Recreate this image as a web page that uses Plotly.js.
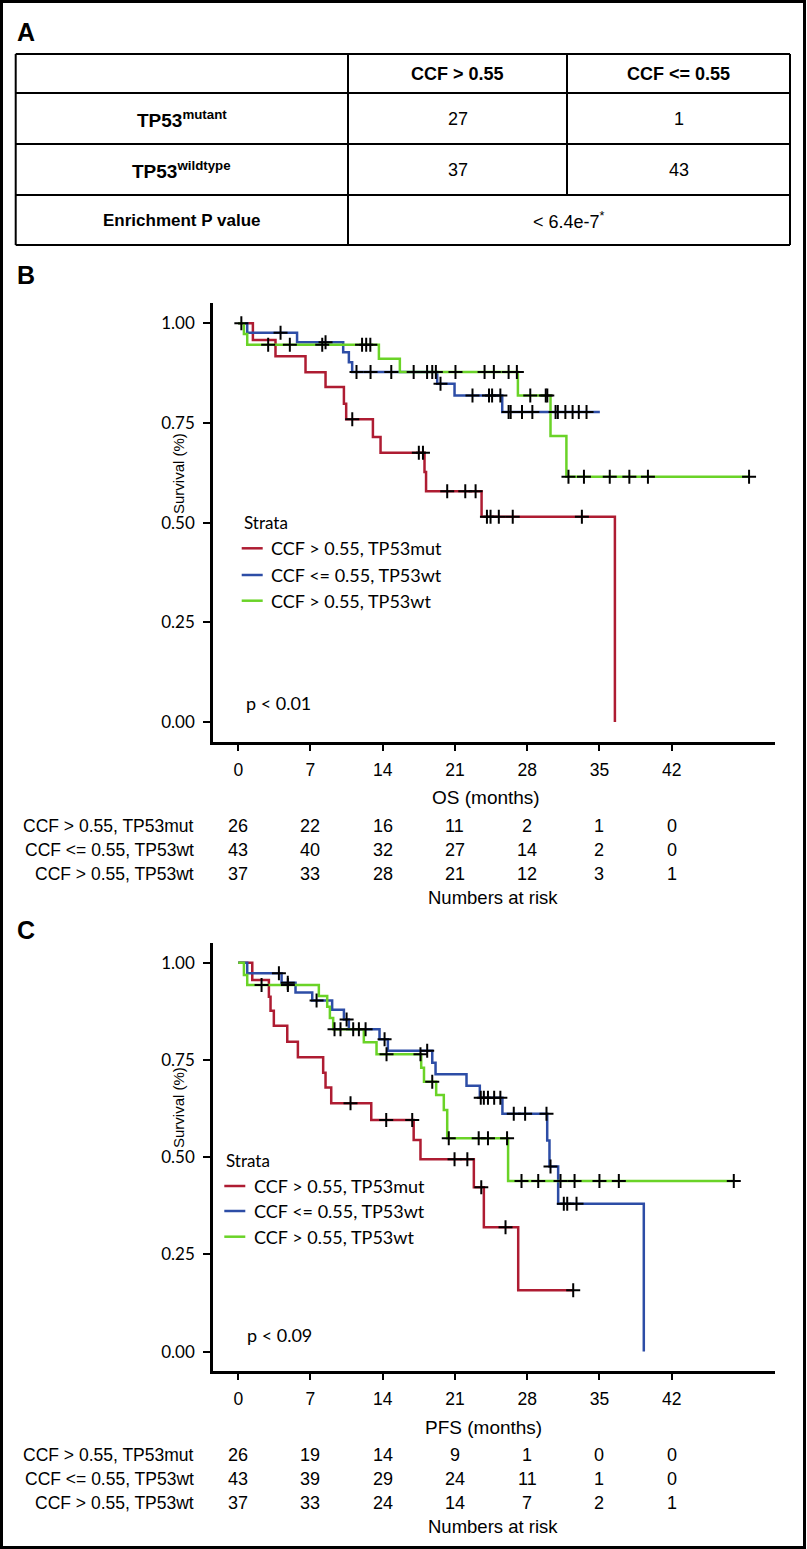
<!DOCTYPE html>
<html><head><meta charset="utf-8">
<script src="https://cdn.plot.ly/plotly-3.0.1.min.js"></script>
<style>html,body{margin:0;padding:0;background:#fff}#chart{width:807px;height:1549px}</style>
</head><body><div id="chart"></div>
<script>
// ---------- Panel A table ----------
const tableCols = ["CCF &gt; 0.55", "CCF &lt;= 0.55"];
const tableRows = ["TP53<sup>mutant</sup>", "TP53<sup>wildtype</sup>"];
const countsMutant = [27, 1];
const countsWildtype = [37, 43];
const pLabel = "Enrichment P value";
const pValue = "&lt; 6.4e-7<sup>*</sup>";

// ---------- Strata ----------
const strata = ["CCF &gt; 0.55, TP53mut", "CCF &lt;= 0.55, TP53wt", "CCF &gt; 0.55, TP53wt"];
const colors = ["#AE1C32", "#2D4DA6", "#6AD327"];

// ---------- Panel B: OS ----------
const osMutTimes = [1.42, 3.61, 6.52, 8.46, 10.24, 10.46, 13.05, 13.79, 18.05, 18.2, 23.58, 36.5];
const osMutSurv  = [0.958, 0.917, 0.877, 0.840, 0.798, 0.759, 0.715, 0.675, 0.627, 0.579, 0.515, 0];
const osMutCens  = [0.3, 11.05, 17.5, 17.9, 20.25, 22.0, 23.0, 24.1, 24.45, 25.25, 26.6, 33.3];
const osMutEnd   = 36.5;

const osLoTimes = [0.87, 5.7, 10.17, 10.72, 11.04, 19.28, 20.96, 25.58];
const osLoSurv  = [0.976, 0.9525, 0.9275, 0.9025, 0.8775, 0.8485, 0.819, 0.7775];
const osLoCens  = [4.1, 8.46, 11.46, 12.82, 14.83, 18.8, 19.15, 19.6, 22.7, 24.3, 24.6, 25.4, 26.2, 26.4, 27.5, 28.5, 30.75, 30.97, 31.7, 32.4, 33.0, 33.75];
const osLoEnd   = 35.04;

const osHiTimes = [0.55, 0.87, 13.63, 15.66, 27.1, 30.26, 31.8];
const osHiSurv  = [0.973, 0.946, 0.911, 0.8775, 0.819, 0.7175, 0.615];
const osHiCens  = [2.9, 5.0, 8.14, 12.0, 12.4, 12.8, 17.0, 18.3, 21.05, 23.87, 24.77, 26.2, 27.0, 28.3, 29.8, 29.95, 32.0, 33.5, 36.0, 37.9, 39.7, 49.5];
const osHiEnd   = 49.5;

// ---------- Panel C: PFS ----------
const pfsMutTimes = [1.36, 2.97, 3.13, 3.45, 4.75, 5.78, 8.23, 8.46, 9.01, 12.89, 17.0, 17.66, 22.83, 23.8, 27.13];
const pfsMutSurv  = [0.956, 0.913, 0.877, 0.838, 0.797, 0.757, 0.7175, 0.679, 0.639, 0.596, 0.5445, 0.495, 0.423, 0.32, 0.158];
const pfsMutCens  = [10.88, 14.34, 16.86, 20.96, 22.2, 23.55, 25.9, 32.46];
const pfsMutEnd   = 32.46;

const pfsLoTimes = [0.87, 4.2, 5.55, 7.17, 9.1, 10.24, 10.72, 13.69, 14.5, 18.8, 19.12, 22.12, 23.41, 25.6, 29.94, 30.16, 31.0, 39.3];
const pfsLoSurv  = [0.973, 0.949, 0.924, 0.903, 0.879, 0.854, 0.829, 0.8035, 0.774, 0.743, 0.7135, 0.6835, 0.653, 0.612, 0.5427, 0.476, 0.38, 0];
const pfsLoCens  = [3.94, 4.8, 7.59, 10.5, 11.14, 11.69, 12.34, 14.18, 18.31, 23.5, 23.8, 24.2, 24.8, 25.4, 26.7, 27.8, 29.87, 30.26, 31.55, 31.88, 32.78];
const pfsLoEnd   = 39.3;

const pfsHiTimes = [0.55, 0.87, 7.81, 8.62, 8.88, 9.2, 12.17, 13.4, 17.73, 18.0, 19.18, 19.92, 20.25, 26.15];
const pfsHiSurv  = [0.969, 0.943, 0.915, 0.887, 0.858, 0.829, 0.796, 0.765, 0.73, 0.694, 0.66, 0.6217, 0.549, 0.439];
const pfsHiCens  = [2.26, 4.81, 9.33, 9.91, 14.37, 17.66, 18.8, 20.4, 23.3, 24.2, 26.05, 27.45, 29.07, 31.23, 32.59, 35.0, 36.88, 48.02];
const pfsHiEnd   = 48.02;

// ---------- Numbers at risk ----------
const riskTimes = [0, 7, 14, 21, 28, 35, 42];
const osRiskMut = [26, 22, 16, 11, 2, 1, 0];
const osRiskLo  = [43, 40, 32, 27, 14, 2, 0];
const osRiskHi  = [37, 33, 28, 21, 12, 3, 1];
const pfsRiskMut = [26, 19, 14, 9, 1, 0, 0];
const pfsRiskLo  = [43, 39, 29, 24, 11, 1, 0];
const pfsRiskHi  = [37, 33, 24, 14, 7, 2, 1];

const yTicks = [0, 0.25, 0.5, 0.75, 1];

// ---------- helpers ----------
const W = 807, H = 1549;
const X = p => p / W, Y = p => 1 - p / H;
const COND = "Liberation Sans, Arial, sans-serif";
const AV = "Lato, Liberation Sans, sans-serif";

function stepCurve(times, surv, end) {
  const x = [0], y = [1];
  times.forEach((t, i) => { x.push(t); y.push(surv[i]); });
  if (end > x[x.length - 1]) { x.push(end); y.push(y[y.length - 1]); }
  return {x, y};
}
function survAt(times, surv, t) {
  let s = 1;
  times.forEach((tt, i) => { if (tt <= t) s = surv[i]; });
  return s;
}

const traces = [];
function addPanel(sets, xa, ya) {
  sets.forEach((d, i) => {
    const c = stepCurve(d.t, d.s, d.end);
    traces.push({x: c.x, y: c.y, type: "scatter", mode: "lines", line: {shape: "hv", color: colors[i], width: 2.5},
      xaxis: xa, yaxis: ya, showlegend: false, hoverinfo: "skip"});
  });
  sets.forEach((d, i) => {
    traces.push({x: d.c, y: d.c.map(t => survAt(d.t, d.s, t)), type: "scatter", mode: "markers",
      marker: {symbol: "cross-thin", size: 10, line: {color: "#000", width: 2}},
      xaxis: xa, yaxis: ya, showlegend: false, hoverinfo: "skip"});
  });
}
addPanel([
  {t: osMutTimes, s: osMutSurv, c: osMutCens, end: osMutEnd},
  {t: osLoTimes, s: osLoSurv, c: osLoCens, end: osLoEnd},
  {t: osHiTimes, s: osHiSurv, c: osHiCens, end: osHiEnd}
], "x", "y");
addPanel([
  {t: pfsMutTimes, s: pfsMutSurv, c: pfsMutCens, end: pfsMutEnd},
  {t: pfsLoTimes, s: pfsLoSurv, c: pfsLoCens, end: pfsLoEnd},
  {t: pfsHiTimes, s: pfsHiSurv, c: pfsHiCens, end: pfsHiEnd}
], "x2", "y2");

const xCommon = {range: [-2.475, 51.975], tickvals: riskTimes, showline: true, linecolor: "#000", linewidth: 2.5,
  ticks: "outside", ticklen: 6, tickwidth: 2, tickcolor: "#000", showgrid: false, zeroline: false,
  tickfont: {family: COND, size: 17.5, color: "#000"}, ticklabelstandoff: 4, fixedrange: true};
const yCommon = {range: [-0.05, 1.05], tickvals: yTicks, tickformat: ".2f", showline: true, linecolor: "#000", linewidth: 2.5,
  ticks: "outside", ticklen: 7, tickwidth: 2, tickcolor: "#000", showgrid: false, zeroline: false,
  tickfont: {family: AV, size: 17, color: "#000"}, ticklabelstandoff: 5, fixedrange: true};

const shapes = [];
const ann = [];
function line(x0, y0, x1, y1, w, col) {
  shapes.push({type: "line", xref: "paper", yref: "paper", x0: X(x0), y0: Y(y0), x1: X(x1), y1: Y(y1),
    line: {color: col || "#000", width: w || 2}});
}
function text(t, x, y, opt) {
  opt = opt || {};
  ann.push(Object.assign({text: t, xref: "paper", yref: "paper", x: X(x), y: Y(y), showarrow: false,
    xanchor: "center", yanchor: "middle", font: {family: COND, size: 18, color: "#000"}}, opt));
}

// outer frame
shapes.push({type: "rect", xref: "paper", yref: "paper", x0: X(1.5), x1: X(804.5), y0: Y(1.5), y1: Y(1547.5),
  line: {color: "#000", width: 3}});

// Panel A table
const tL = 15.7, tR = 790, rowsY = [54, 93, 144, 195, 245], colsX = [348, 567];
rowsY.forEach(y => line(tL, y, tR, y, 2));
line(tL, 54, tL, 245, 2); line(tR, 54, tR, 245, 2);
line(colsX[0], 54, colsX[0], 245, 2);
line(colsX[1], 54, colsX[1], 195, 2);
const colC = [(tL + colsX[0]) / 2, (colsX[0] + colsX[1]) / 2, (colsX[1] + tR) / 2];
const rowC = [73.5, 118.5, 169.5, 220];
tableCols.forEach((c, i) => text("<b>" + c + "</b>", colC[i + 1], rowC[0]));
tableRows.forEach((r, i) => text("<b>" + r + "</b>", colC[0], rowC[i + 1], {font: {family: COND, size: 19, color: "#000"}}));
countsMutant.forEach((v, i) => text(String(v), colC[i + 1], rowC[1]));
countsWildtype.forEach((v, i) => text(String(v), colC[i + 1], rowC[2]));
text("<b>" + pLabel + "</b>", colC[0], rowC[3], {font: {family: COND, size: 17, color: "#000"}});
text(pValue, (colsX[0] + tR) / 2, rowC[3]);

// panel letters
text("<b>A</b>", 26, 32, {font: {family: COND, size: 25, color: "#000"}});
text("<b>B</b>", 26, 275, {font: {family: COND, size: 25, color: "#000"}});
text("<b>C</b>", 26, 930, {font: {family: COND, size: 25, color: "#000"}});

// y axis titles
text("Survival (%)", 178, 474, {textangle: -90, font: {family: COND, size: 15, color: "#000"}});
text("Survival (%)", 178, 1108, {textangle: -90, font: {family: COND, size: 15, color: "#000"}});

// x axis titles
text("OS (months)", 486, 797, {font: {family: COND, size: 19, color: "#000"}});
text("PFS (months)", 483, 1427, {font: {family: COND, size: 19, color: "#000"}});

// legends
function legend(x0, yS, yL, xText, pText, pX, pY) {
  text("Strata", x0, yS, {xanchor: "left", font: {family: AV, size: 17, color: "#000"}});
  strata.forEach((s, i) => {
    line(x0, yL[i], x0 + 21, yL[i], 2.5, colors[i]);
    text(s, xText, yL[i], {xanchor: "left", font: {family: AV, size: 18, color: "#000"}});
  });
  text(pText, pX, pY, {xanchor: "left", font: {family: AV, size: 18, color: "#000"}});
}
legend(241.7, 522.7, [548.3, 575, 600.7], 269, "p &lt; 0.01", 244, 703.3);
legend(224.3, 1160, [1186, 1211, 1236.7], 251.5, "p &lt; 0.09", 244.5, 1335);

// risk tables
function riskTable(rows, xa, yRows, yNar) {
  rows.forEach((r, i) => {
    text(strata[i], 196, yRows[i], {xanchor: "right", font: {family: COND, size: 17.5, color: "#000"}});
    r.forEach((v, j) => ann.push({text: String(v), xref: xa, yref: "paper", x: riskTimes[j], y: Y(yRows[i]),
      showarrow: false, xanchor: "center", yanchor: "middle", font: {family: COND, size: 18, color: "#000"}}));
  });
  text("Numbers at risk", 493, yNar, {font: {family: COND, size: 18.5, color: "#000"}});
}
riskTable([osRiskMut, osRiskLo, osRiskHi], "x", [826, 850, 874], 897);
riskTable([pfsRiskMut, pfsRiskLo, pfsRiskHi], "x2", [1455, 1479, 1503], 1526);

const layout = {
  width: W, height: H, margin: {l: 0, r: 0, t: 0, b: 0}, paper_bgcolor: "#fff", plot_bgcolor: "#fff",
  showlegend: false,
  xaxis: Object.assign({}, xCommon, {domain: [X(212.7), X(774.6)], anchor: "y"}),
  yaxis: Object.assign({}, yCommon, {domain: [Y(742), Y(303.3)], anchor: "x"}),
  xaxis2: Object.assign({}, xCommon, {domain: [X(212.7), X(774.6)], anchor: "y2"}),
  yaxis2: Object.assign({}, yCommon, {domain: [Y(1371), Y(943.4)], anchor: "x2"}),
  shapes: shapes, annotations: ann
};
Plotly.newPlot("chart", traces, layout, {staticPlot: true, displayModeBar: false});
</script></body></html>
